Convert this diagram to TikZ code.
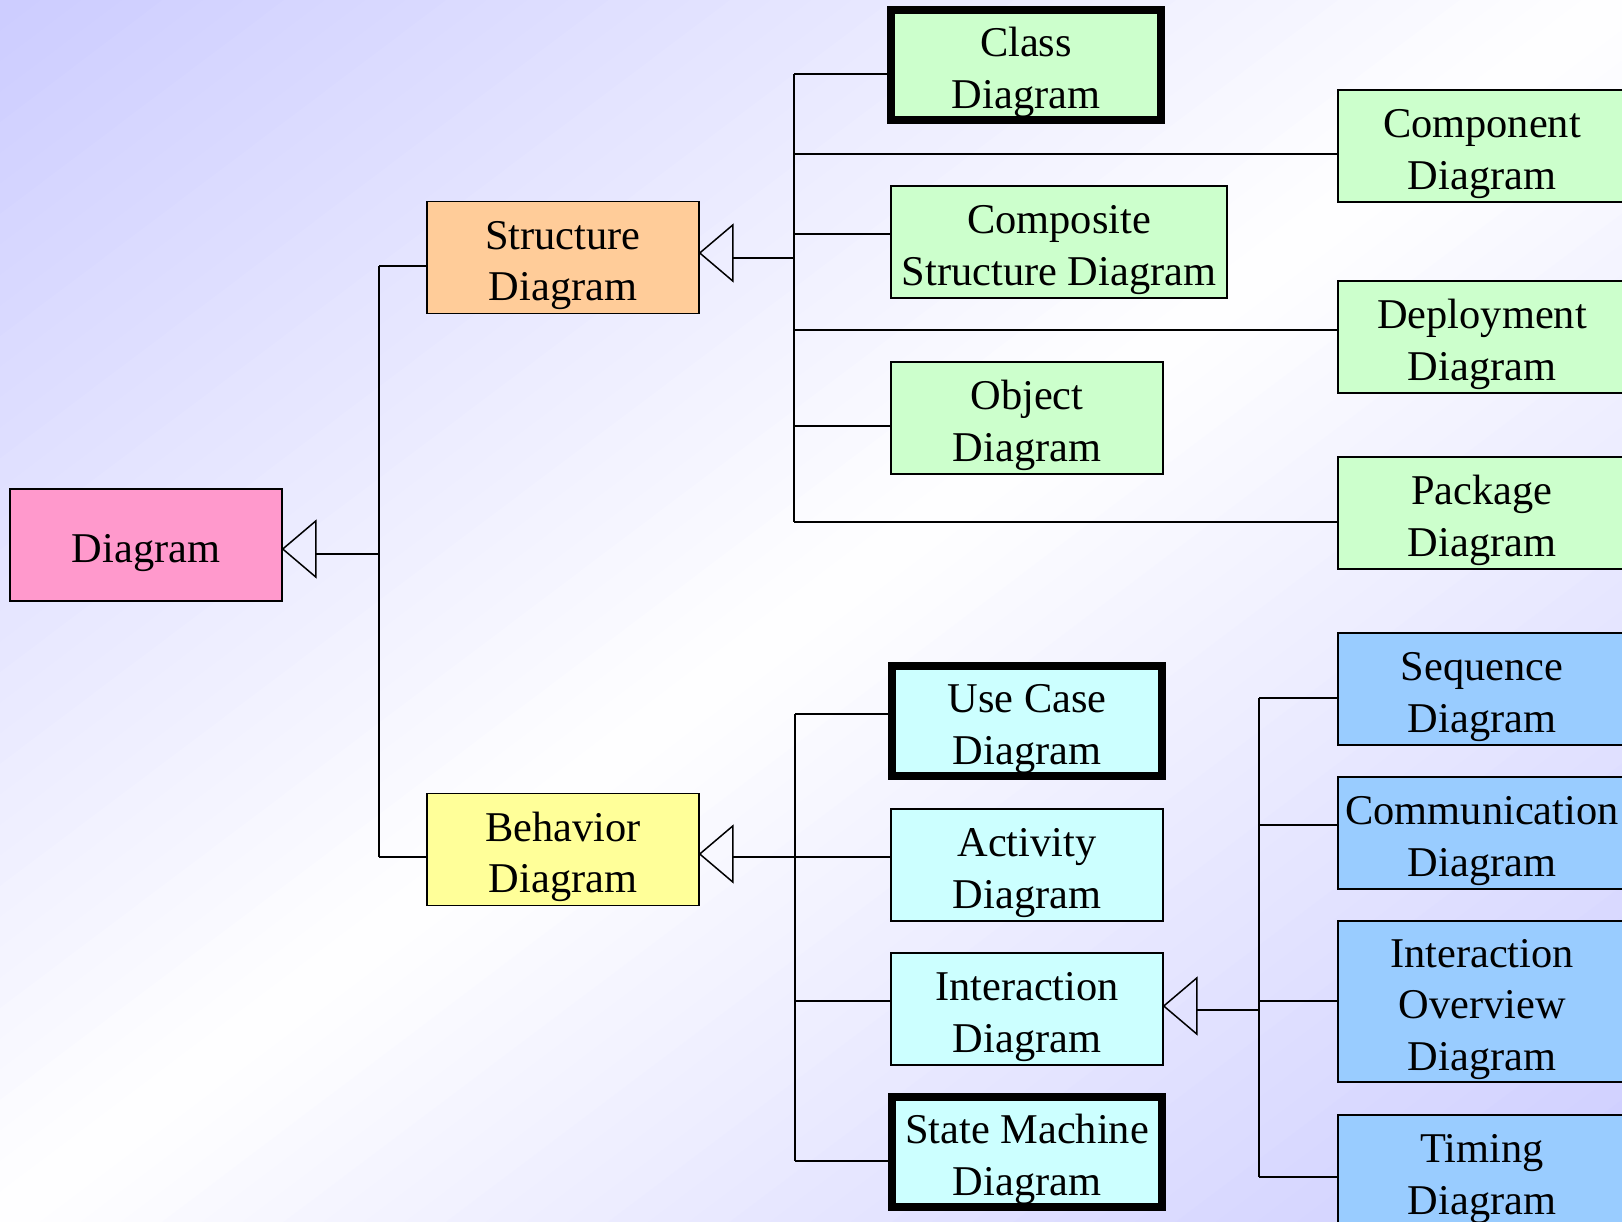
\documentclass[tikz,border=0pt]{standalone}
\usepackage{fontspec}
\setmainfont{Liberation Serif}
\definecolor{lav}{HTML}{CCCCFF}
\definecolor{pinkc}{HTML}{FF99CC}
\definecolor{orangec}{HTML}{FFCC99}
\definecolor{yellowc}{HTML}{FFFF99}
\definecolor{greenc}{HTML}{CCFFCC}
\definecolor{cyanc}{HTML}{CCFFFF}
\definecolor{bluec}{HTML}{99CCFF}
\newcommand\tup{\rule{0pt}{44pt}}
\begin{document}
\begin{tikzpicture}[x=1pt,y=-1pt,
  box/.style={draw, line width=1.5pt, minimum width=272pt, minimum height=112pt, inner sep=0pt, align=center, font=\fontsize{42.4}{51.7}\selectfont},
  thickbox/.style={box, line width=8pt, minimum width=270pt, minimum height=110pt},
  wide/.style={minimum width=288pt},
  conn/.style={line width=1.5pt},
  gen/.style={line width=1.5pt, line join=miter}]
\useasboundingbox (0,0) rectangle (1622,1222);
% background gradient
\begin{scope}
\clip (0,0) rectangle (1622,1222);
\foreach \k in {0,...,79}{
  \pgfmathsetmacro\ca{\k/40}
  \pgfmathsetmacro\cb{(\k+1.1)/40}
  \pgfmathsetmacro\amt{abs((\k+0.5)/40-1)*100}
  \fill[fill=lav!\amt!white] ({\ca*1622+1622},-1222) -- ({\ca*1622-3244},2444) -- ({\cb*1622-3244},2444) -- ({\cb*1622+1622},-1222) -- cycle;
}
\end{scope}
% nodes
\node[box, fill=pinkc] (dia) at (146,545) {\tup Diagram};
\node[box, fill=orangec] (str) at (563,257.5) {\tup Structure\\Diagram};
\node[box, fill=yellowc] (beh) at (563,849.5) {\tup Behavior\\Diagram};
\node[thickbox, fill=greenc] (cls) at (1026,65) {\tup Class\\Diagram};
\node[box, fill=greenc, minimum width=336pt] (cmp) at (1059,242) {\tup Composite\\Structure Diagram};
\node[box, fill=greenc] (obj) at (1027,418) {\tup Object\\Diagram};
\node[box, wide, fill=greenc] (cpn) at (1482,146) {\tup Component\\Diagram};
\node[box, wide, fill=greenc] (dep) at (1482,337) {\tup Deployment\\Diagram};
\node[box, wide, fill=greenc] (pkg) at (1482,513) {\tup Package\\Diagram};
\node[thickbox, fill=cyanc] (uc) at (1027,721) {\tup Use Case\\Diagram};
\node[box, fill=cyanc] (act) at (1027,865) {\tup Activity\\Diagram};
\node[box, fill=cyanc] (int) at (1027,1009) {\tup Interaction\\Diagram};
\node[thickbox, fill=cyanc] (sm) at (1027,1152) {\tup State Machine\\Diagram};
\node[box, wide, fill=bluec] (seq) at (1482,689) {\tup Sequence\\Diagram};
\node[box, wide, fill=bluec] (com) at (1482,833) {\tup Communication\\Diagram};
\node[box, wide, fill=bluec, minimum height=161pt] (io) at (1482,1001.5) {\tup Interaction\\Overview\\Diagram};
\node[box, wide, fill=bluec] (tim) at (1482,1171) {\tup Timing\\Diagram};
% Diagram generalization
\coordinate (dt) at ([yshift=-4pt]dia.east);
\draw[gen] (dt) -- ++(33,-28) -- ++(0,56) -- cycle;
\coordinate (dJ) at (379,554);
\coordinate (dT1) at (379,266);
\coordinate (dT2) at (379,857);
\draw[conn] ([xshift=33pt,yshift=-5pt]dt) -- (dJ);
\draw[conn] (dT1) -- (dT2);
\draw[conn] (dT1) -- (dT1 -| str.west);
\draw[conn] (dT2) -- (dT2 -| beh.west);
% Structure generalization
\coordinate (st) at ([yshift=4.5pt]str.east);
\draw[gen] (st) -- ++(33,-28) -- ++(0,56) -- cycle;
\coordinate (sJ) at (794,258);
\coordinate (s1) at (794,74);
\coordinate (s2) at (794,154);
\coordinate (s3) at (794,234);
\coordinate (s4) at (794,330);
\coordinate (s5) at (794,426);
\coordinate (s6) at (794,522);
\draw[conn] ([xshift=33pt,yshift=-5pt]st) -- (sJ);
\draw[conn] (s1) -- (s6);
\draw[conn] (s1) -- (s1 -| cls.west);
\draw[conn] (s2) -- (s2 -| cpn.west);
\draw[conn] (s3) -- (s3 -| cmp.west);
\draw[conn] (s4) -- (s4 -| dep.west);
\draw[conn] (s5) -- (s5 -| obj.west);
\draw[conn] (s6) -- (s6 -| pkg.west);
% Behavior generalization
\coordinate (bt) at ([yshift=-4.5pt]beh.east);
\draw[gen] (bt) -- ++(33,-28) -- ++(0,56) -- cycle;
\coordinate (b1) at (795,714);
\coordinate (b2) at (795,857);
\coordinate (b3) at (795,1001);
\coordinate (b4) at (795,1161);
\draw[conn] ([xshift=33pt,yshift=-3pt]bt) -- (b2);
\draw[conn] (b1) -- (b4);
\draw[conn] (b1) -- (b1 -| uc.west);
\draw[conn] (b2) -- (b2 -| act.west);
\draw[conn] (b3) -- (b3 -| int.west);
\draw[conn] (b4) -- (b4 -| sm.west);
% Interaction generalization
\coordinate (it) at ([yshift=3pt]int.east);
\draw[gen] (it) -- ++(33,-28) -- ++(0,56) -- cycle;
\coordinate (iJ) at (1259,1010);
\coordinate (i1) at (1259,698);
\coordinate (i2) at (1259,825);
\coordinate (i3) at (1259,1001);
\coordinate (i4) at (1259,1177);
\draw[conn] ([xshift=33pt,yshift=-4pt]it) -- (iJ);
\draw[conn] (i1) -- (i4);
\draw[conn] (i1) -- (i1 -| seq.west);
\draw[conn] (i2) -- (i2 -| com.west);
\draw[conn] (i3) -- (i3 -| io.west);
\draw[conn] (i4) -- (i4 -| tim.west);
\end{tikzpicture}
\end{document}
